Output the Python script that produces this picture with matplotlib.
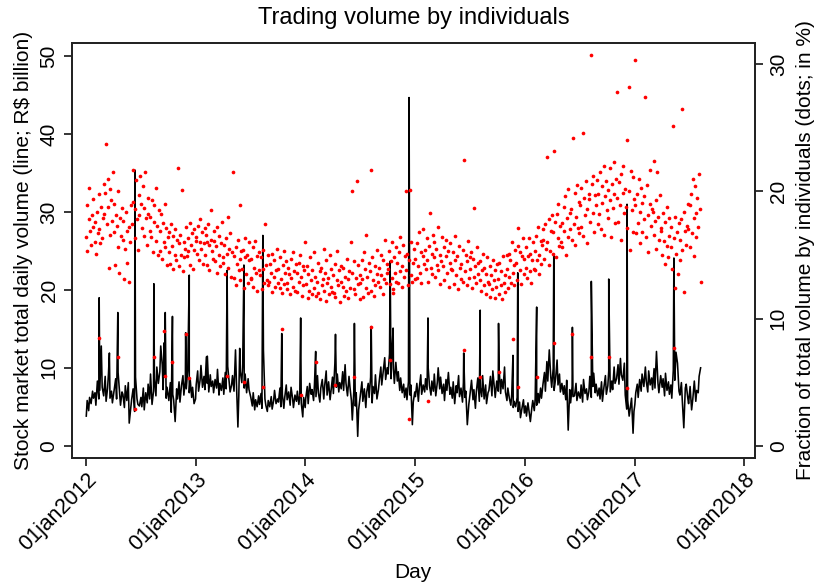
import numpy as np
import pandas as pd
import matplotlib
matplotlib.use("Agg")
import matplotlib.pyplot as plt

plt.rcParams['font.family'] = ['Liberation Sans', 'DejaVu Sans']

# total daily volume (R$ bn), read roughly every 3 trading days, month by month
vol_2012 = [3.8, 5.8, 4.5, 6.2, 5.4, 7.0, 6.1,
            6.8, 5.2, 8.3, 6.0, 7.1, 12.8, 7.5,
            6.4, 8.9, 5.7, 7.4, 9.3, 6.1, 7.0,
            5.5, 7.2, 8.6, 6.0, 9.4, 7.8, 5.2, 6.9,
            6.6, 4.9, 7.7, 5.8, 8.1, 2.9, 4.7,
            5.9, 7.3, 4.4, 8.8, 6.0, 5.3, 5.1,
            6.2, 5.0, 7.4, 4.6, 6.8, 5.5, 7.9,
            6.0, 9.2, 5.3, 7.0, 8.6, 6.4, 10.1, 8.0,
            9.5, 12.8, 10.4, 7.2, 8.8, 6.1, 7.5,
            5.8, 8.1, 4.3, 6.6, 5.9, 3.1, 7.3,
            6.0, 8.2, 5.6, 7.7, 9.0, 6.5, 8.4,
            7.3, 9.8, 6.8, 8.6, 6.2, 7.5, 5.4, 6.0]
vol_2013 = [7.8, 9.6, 7.0, 8.4, 10.3, 7.5, 8.9,
            7.2, 11.4, 8.0, 6.9, 9.1, 7.6, 8.3,
            6.8, 8.5, 7.4, 9.8, 6.5, 8.0, 7.1,
            8.7, 6.6, 9.4, 7.3, 10.2, 8.1, 6.9, 7.8,
            9.0, 7.0, 12.3, 8.2, 2.4, 6.4, 9.5,
            8.1, 10.5, 7.4, 9.2, 6.8, 8.6, 7.2,
            6.2, 5.1, 6.8, 4.6, 5.9, 5.0, 6.4,
            5.3, 6.7, 4.8, 12.3, 6.0, 5.2, 4.4, 5.8,
            5.0, 6.3, 4.7, 5.8, 7.1, 5.4, 6.0,
            5.6, 7.4, 5.0, 6.6, 4.8, 6.2, 7.8,
            5.9, 6.9, 5.2, 7.5, 6.1, 4.9, 6.5,
            5.7, 7.0, 5.3, 6.4, 5.5, 3.7, 6.2, 4.9]
vol_2014 = [6.1, 7.6, 5.4, 8.0, 6.6, 7.2, 5.8,
            7.9, 6.3, 9.0, 6.8, 5.6, 7.4, 8.5,
            6.0, 7.7, 9.6, 6.5, 8.2, 5.9, 7.0,
            8.8, 6.7, 10.6, 7.5, 9.2, 6.9, 8.1, 7.3,
            9.5, 7.1, 10.4, 8.0, 6.4, 8.9, 7.6,
            5.8, 3.3, 7.0, 5.1, 6.8, 1.2, 4.6,
            6.5, 8.2, 5.7, 7.3, 4.9, 6.9, 8.0,
            6.2, 8.8, 5.5, 7.6, 6.7, 9.1, 6.0, 7.2,
            8.4, 10.1, 7.8, 9.6, 11.3, 8.5, 10.0,
            9.2, 11.8, 8.6, 12.0, 9.9, 8.0, 10.7,
            8.3, 9.5, 7.1, 8.7, 6.8, 7.9, 6.2,
            7.4, 5.9, 8.2, 6.5, 7.8, 2.7, 5.6, 6.9]
vol_2015 = [6.3, 8.0, 5.7, 7.4, 9.1, 6.6, 7.8,
            6.9, 8.6, 7.2, 10.4, 7.7, 6.5, 8.3,
            7.0, 9.2, 6.4, 8.1, 10.0, 7.3, 8.8,
            6.7, 7.9, 5.8, 8.5, 7.1, 9.4, 6.6, 7.5,
            6.1, 8.2, 5.4, 7.7, 6.8, 9.0, 6.3,
            7.4, 5.6, 8.1, 6.2, 7.0, 2.7, 5.3,
            6.6, 8.4, 5.9, 7.2, 4.8, 6.9, 8.7,
            5.7, 7.5, 6.3, 9.0, 6.0, 7.8, 5.4, 6.8,
            7.1, 8.9, 6.4, 9.6, 7.5, 6.2, 8.3,
            7.0, 9.8, 6.7, 8.5, 7.3, 10.1, 6.9,
            5.8, 7.4, 6.1, 5.2, 6.6, 4.9, 5.7,
            5.0, 6.2, 4.4, 5.6, 3.6, 4.8, 5.9, 4.2]
vol_2016 = [5.1, 3.8, 5.5, 4.6, 3.1, 4.9, 5.8,
            4.5, 6.0, 5.2, 6.7, 5.5, 7.4, 6.1,
            7.9, 9.4, 7.0, 10.8, 8.3, 12.3, 8.8,
            7.5, 9.9, 7.1, 8.6, 11.0, 7.8, 9.2, 6.9,
            8.0, 6.6, 7.7, 5.9, 8.4, 2.0, 7.2,
            5.5, 7.6, 6.3, 6.4, 8.0, 5.8, 6.9,
            6.1, 7.8, 5.6, 8.5, 6.7, 7.3, 5.9,
            7.0, 8.9, 6.2, 7.6, 9.3, 6.8, 7.9, 6.4,
            7.4, 6.0, 8.2, 5.7, 7.5, 9.0, 6.6,
            7.7, 9.6, 6.9, 8.3, 7.2, 10.1, 8.0,
            8.6, 10.4, 7.9, 11.2, 9.1, 8.4, 10.6,
            6.5, 4.7, 5.9, 3.8, 5.2, 6.1, 1.6, 4.4]
vol_2017 = [5.3, 6.8, 7.9, 6.2, 8.5, 7.0, 9.2,
            7.6, 10.1, 8.3, 6.9, 9.6, 7.8, 8.7,
            7.2, 9.9, 7.4, 12.1, 8.0, 6.8, 9.0,
            7.5, 8.6, 6.4, 9.3, 7.1, 8.2, 6.6,
            7.8, 6.1, 9.7, 8.4, 12.0, 10.6, 7.0,
            6.5, 8.1, 5.8, 2.3, 7.4, 7.9, 6.2,
            5.4, 7.6, 4.6, 6.0, 8.3, 5.7, 7.1,
            6.8, 8.9, 10.0]

# one-day spikes: date, total volume, share of individuals that day
spike_days = ["2012-02-14", "2012-03-19", "2012-04-16", "2012-06-12", "2012-08-14",
              "2012-09-17", "2012-09-21", "2012-10-15", "2012-11-28", "2012-12-10",
              "2013-02-08", "2013-04-15", "2013-05-27", "2013-06-10", "2013-08-12",
              "2013-10-14", "2013-12-16", "2014-02-04", "2014-04-11", "2014-06-13",
              "2014-08-08", "2014-10-10", "2014-10-20", "2014-12-12", "2015-02-13",
              "2015-06-12", "2015-08-06", "2015-10-06", "2015-11-23", "2015-12-09",
              "2016-02-10", "2016-04-07", "2016-06-08", "2016-08-10", "2016-10-07",
              "2016-12-07", "2017-05-12"]
spike_vol = [19.0, 11.9, 17.1, 35.4, 20.8, 13.2, 17.1, 16.6, 14.5, 21.9,
             11.5, 22.5, 12.5, 23.2, 27.0, 14.4, 16.4, 12.1, 14.3, 15.7,
             15.3, 23.7, 15.1, 44.7, 16.4, 11.9, 17.4, 15.7, 11.6, 22.2,
             17.8, 24.6, 15.2, 21.1, 21.4, 31.0, 24.1]
spike_share = [8.5, 14.0, 7.0, 2.9, 7.0, 9.0, 5.5, 6.6, 8.8, 5.3,
               16.0, 5.5, 13.0, 5.0, 4.6, 9.2, 4.0, 6.6, 4.8, 5.4,
               9.3, 6.7, 12.0, 2.1, 3.5, 7.5, 5.4, 5.8, 8.4, 4.6,
               5.4, 8.1, 8.8, 7.0, 7.0, 4.5, 7.7]

# share of total volume traded by individuals (%), about every 2 trading days
share_2012 = [16.4, 18.9, 15.3, 17.8, 20.3, 16.9, 15.8, 18.1, 17.2, 19.4, 16.0,
              17.6, 15.1, 18.4, 16.7, 19.8, 17.0, 15.9, 18.8, 16.3, 17.9, 20.6,
              18.2, 19.9, 23.7, 17.4, 21.0, 18.8, 16.6, 20.2, 19.3, 17.7, 21.5,
              19.0, 16.8, 14.2, 18.1, 17.3, 20.0, 15.6, 13.6, 17.9, 16.5, 18.7,
              16.2, 17.7, 13.1, 15.5, 18.4, 16.9, 14.4, 17.2, 12.9, 16.0, 18.9,
              17.4, 21.7, 19.2, 16.3, 18.6, 20.9, 17.8, 15.4, 19.7, 18.1, 21.2,
              19.0, 17.1, 20.4, 16.5, 18.7, 21.5, 17.9, 15.8, 19.5, 18.2, 16.9,
              18.0, 16.4, 19.3, 15.2, 17.6, 18.9, 16.1, 20.3, 17.3, 15.0, 18.5,
              16.9, 15.3, 18.2, 14.7, 17.5, 16.0, 19.0, 15.6, 17.1, 14.2, 16.4,
              15.2, 16.8, 14.3, 17.4, 15.7, 13.9, 16.5, 15.0, 17.0, 14.6, 16.2,
              21.8, 15.9, 14.1, 16.6, 15.0, 20.1, 13.7, 16.0, 14.8, 15.5, 17.2,
              14.9, 16.3, 15.3, 17.5, 14.2, 15.8, 16.7, 13.9, 15.4, 17.0, 16.1]
share_2013 = [16.4, 15.1, 17.3, 14.6, 16.0, 17.8, 15.5, 16.8, 14.3, 15.9, 17.1,
              15.0, 16.6, 14.2, 17.4, 15.8, 13.8, 16.2, 18.5, 15.3, 14.7, 16.9,
              16.1, 14.5, 15.7, 17.2, 13.6, 15.0, 16.5, 14.1, 15.9, 17.6, 14.8,
              14.4, 15.8, 13.5, 16.3, 15.1, 18.0, 14.0, 15.5, 16.7, 13.3, 15.2,
              21.5, 14.9, 13.2, 15.6, 12.6, 14.3, 16.2, 13.8, 18.9, 14.7, 15.3,
              13.9, 15.4, 12.4, 14.8, 16.3, 13.5, 15.0, 12.8, 14.6, 16.0, 13.2,
              14.7, 13.1, 15.6, 12.5, 14.0, 16.1, 13.6, 14.9, 12.2, 15.2, 13.8,
              13.4, 14.8, 12.3, 15.4, 13.9, 12.8, 17.4, 14.2, 13.0, 15.0, 12.6,
              12.9, 14.3, 13.6, 12.1, 15.1, 13.3, 14.6, 12.5, 13.8, 15.5, 12.8,
              13.9, 12.4, 14.8, 13.1, 12.0, 14.2, 15.3, 12.7, 13.6, 14.5, 12.3,
              12.8, 14.0, 13.5, 11.9, 14.7, 13.2, 12.5, 15.2, 13.7, 12.2, 14.3,
              13.6, 12.1, 14.4, 12.9, 15.0, 13.3, 11.8, 14.1, 12.6, 13.8, 16.0]
share_2014 = [12.7, 14.1, 11.6, 13.5, 12.2, 14.8, 13.0, 11.9, 13.8, 12.4, 15.2,
              13.3, 11.8, 12.9, 14.4, 12.0, 13.7, 11.5, 14.0, 12.6, 13.1, 15.5,
              12.2, 13.6, 11.4, 14.6, 12.8, 13.2, 11.9, 15.0, 12.5, 13.9, 12.1,
              13.4, 12.0, 14.3, 11.7, 13.0, 15.3, 12.6, 13.8, 11.3, 14.1, 12.9,
              12.5, 14.0, 11.8, 13.3, 12.2, 14.7, 13.1, 11.6, 13.7, 12.4, 16.0,
              13.6, 20.0, 12.3, 14.5, 11.9, 13.2, 20.8, 12.7, 14.2, 11.5, 13.4,
              12.8, 14.6, 13.1, 11.7, 15.2, 13.9, 12.4, 16.6, 13.3, 12.0, 14.4,
              13.7, 12.2, 21.7, 14.8, 13.0, 11.8, 14.1, 12.6, 15.4, 13.5, 12.9,
              14.0, 12.5, 15.0, 13.4, 11.9, 14.6, 13.1, 16.2, 12.8, 14.3, 13.6,
              13.9, 15.3, 12.7, 14.5, 13.2, 16.0, 12.3, 14.8, 13.6, 15.6, 12.9,
              14.4, 12.8, 15.2, 13.7, 16.4, 12.5, 14.1, 15.8, 13.3, 14.9, 20.0,
              13.8, 15.1, 12.6, 14.6, 20.1, 13.4, 16.0, 12.9, 14.4, 15.5, 13.1]
share_2015 = [14.7, 13.2, 15.9, 14.1, 16.8, 13.6, 15.2, 12.8, 14.9, 17.0, 14.3,
              15.4, 13.9, 16.3, 14.6, 12.9, 15.7, 18.3, 14.0, 15.1, 13.5, 16.6,
              14.8, 16.0, 13.3, 15.5, 14.2, 17.2, 13.8, 15.0, 12.7, 14.5, 16.4,
              14.1, 15.6, 13.0, 14.9, 16.2, 13.6, 15.3, 12.5, 14.4, 15.9, 13.9,
              13.8, 15.2, 12.7, 14.6, 16.5, 13.4, 14.9, 12.3, 15.7, 14.0, 13.1,
              14.3, 12.9, 15.4, 22.5, 13.7, 15.0, 12.6, 14.5, 16.1, 13.2, 14.8,
              13.9, 15.2, 12.4, 14.7, 13.3, 18.7, 14.1, 12.8, 15.6, 13.5, 14.4,
              13.0, 14.5, 12.2, 13.8, 15.1, 12.6, 14.0, 11.9, 13.5, 14.8, 12.9,
              12.7, 14.1, 11.7, 13.4, 12.3, 14.6, 13.0, 11.6, 13.8, 12.5, 14.3,
              13.1, 11.9, 14.4, 12.6, 13.7, 11.5, 14.9, 12.8, 13.4, 12.1, 15.0,
              13.9, 12.4, 15.1, 13.3, 14.6, 12.8, 16.0, 13.6, 14.2, 12.6, 15.4,
              14.4, 13.0, 15.7, 17.1, 13.8, 15.2, 12.7, 14.9, 16.3, 13.5, 14.7]
share_2016 = [14.0, 15.6, 13.2, 14.9, 16.3, 13.7, 15.1, 12.8, 14.6, 16.0, 13.9,
              15.3, 13.8, 16.5, 14.6, 17.2, 15.0, 13.5, 16.1, 14.3, 15.8, 17.0,
              16.2, 14.7, 17.4, 15.5, 22.7, 16.0, 14.2, 17.8, 15.3, 16.9, 18.1,
              16.8, 15.1, 23.2, 17.6, 14.8, 18.2, 16.3, 19.0, 15.7, 17.3, 16.0,
              17.5, 15.6, 18.8, 16.9, 19.6, 15.0, 17.9, 20.2, 16.4, 18.3, 17.0,
              18.6, 16.2, 24.2, 17.4, 19.9, 15.8, 18.0, 20.5, 17.1, 19.2, 16.7,
              18.9, 17.2, 20.3, 24.6, 16.5, 19.5, 18.1, 20.8, 15.9, 18.6, 19.8,
              19.4, 17.6, 30.7, 20.6, 18.3, 21.2, 16.8, 19.7, 18.9, 20.9, 17.4,
              19.8, 18.2, 21.5, 17.0, 20.4, 19.1, 22.0, 16.6, 19.6, 20.8, 18.5,
              20.1, 17.9, 21.8, 19.3, 16.4, 20.6, 18.7, 22.3, 19.8, 17.5, 21.0,
              19.5, 27.8, 17.6, 20.7, 18.9, 21.4, 16.2, 19.9, 22.0, 18.3, 20.2,
              18.8, 24.0, 17.1, 28.2, 20.0, 15.4, 21.6, 18.5, 21.1, 16.8, 19.4]
share_2017 = [18.9, 30.3, 16.7, 19.8, 17.5, 21.0, 15.9, 18.4, 20.3, 16.8, 19.1,
              17.8, 19.6, 27.4, 16.4, 20.5, 18.1, 15.2, 19.0, 21.7, 17.3, 18.6,
              18.4, 16.6, 22.4, 17.7, 19.3, 15.5, 21.5, 18.0, 16.2, 19.7, 17.1,
              16.9, 15.0, 18.3, 16.1, 14.3, 17.6, 15.7, 18.8, 14.8, 16.5, 17.9,
              15.6, 17.2, 13.9, 25.1, 16.3, 12.4, 18.0, 15.1, 16.8, 13.5, 17.5,
              16.2, 14.6, 17.8, 26.5, 15.4, 18.4, 12.1, 16.9, 15.8, 17.3, 19.0,
              17.0, 18.9, 15.6, 19.8, 16.7, 21.0, 17.9, 14.9, 20.4, 18.3, 16.4,
              19.5, 17.2, 21.4, 18.6, 12.9]

years = [2012, 2013, 2014, 2015, 2016, 2017]
vol_by_year = [vol_2012, vol_2013, vol_2014, vol_2015, vol_2016, vol_2017]
share_by_year = [share_2012, share_2013, share_2014, share_2015, share_2016, share_2017]


def year_days(year, n):
    end = "2017-08-09" if year == 2017 else f"{year}-12-31"
    days = pd.bdate_range(f"{year}-01-02", end)
    idx = np.linspace(0, len(days) - 1, n).round().astype(int)
    return days[idx]


# merge regular readings with the spike days
spikes = pd.to_datetime(spike_days)
line = pd.concat([pd.Series(v, index=year_days(y, len(v))) for y, v in zip(years, vol_by_year)]
                 + [pd.Series(spike_vol, index=spikes)]).sort_index()
dots = pd.concat([pd.Series(v, index=year_days(y, len(v))) for y, v in zip(years, share_by_year)]
                 + [pd.Series(spike_share, index=spikes)]).sort_index()

fig = plt.figure(figsize=(8.16, 5.83), dpi=100)
ax = fig.add_axes([0.0888, 0.2144, 0.8364, 0.7118])
ax2 = ax.twinx()

ax.plot(line.index, line.values, color='black', lw=1.15)
ax2.scatter(dots.index, dots.values, s=7, color='red', linewidths=0)

ax.set_xlim(pd.Timestamp("2011-11-17"), pd.Timestamp("2018-02-06"))
ax.set_ylim(-1.58, 51.7)
ax2.set_ylim(-0.967, 31.66)

ticks = pd.to_datetime([f"{y}-01-01" for y in range(2012, 2019)])
ax.set_xticks(ticks)
ax.set_xticklabels([f"01jan{y}" for y in range(2012, 2019)], rotation=45,
                   ha='right', va='top', rotation_mode='anchor', fontsize=15.5)
ax.set_yticks([0, 10, 20, 30, 40, 50])
ax.set_yticklabels(['0', '10', '20', '30', '40', '50'], rotation=90, va='center', fontsize=15)
ax2.set_yticks([0, 10, 20, 30])
ax2.set_yticklabels(['0', '10', '20', '30'], rotation=90, va='center', fontsize=15)

for a in (ax, ax2):
    a.tick_params(direction='out', length=6, width=1.1, pad=4)
    for sp in a.spines.values():
        sp.set_linewidth(1.3)
        sp.set_color('#222222')
ax.tick_params(axis='x', pad=2)

fig.text(0.506, 1 - 572 / 583, "Day", ha='center', va='center', fontsize=15)
ax.set_ylabel("Stock market total daily volume (line; R$ billion)", fontsize=15, labelpad=5)
ax2.set_ylabel("Fraction of total volume by individuals (dots; in %)", fontsize=15,
               rotation=90, labelpad=6)
ax.set_title("Trading volume by individuals", fontsize=17, pad=14)

fig.savefig("out.png", dpi=100, facecolor='white')
